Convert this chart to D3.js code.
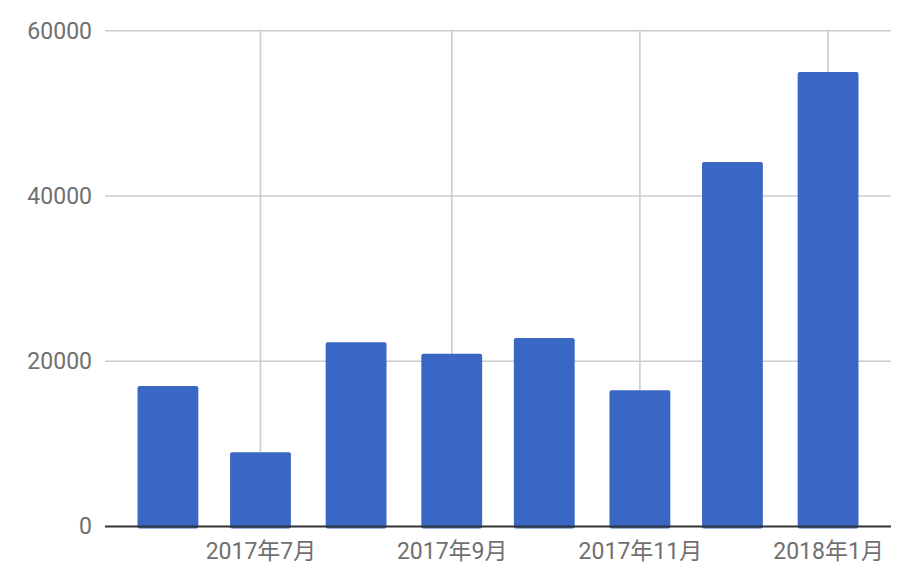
<!DOCTYPE html>
<html>
<head>
<meta charset="utf-8">
<script src="https://cdn.jsdelivr.net/npm/d3@7"></script>
<style>
  body { margin: 0; background: #fff; }
  svg text { font-family: Roboto, "Noto Sans CJK JP", sans-serif; }
</style>
</head>
<body>
<svg id="chart"></svg>
<script>
// data
const months = ["2017-06", "2017-07", "2017-08", "2017-09", "2017-10", "2017-11", "2017-12", "2018-01"];
const values = [17000, 9000, 22300, 20900, 22800, 16500, 44100, 55000];
const yTicks = [0, 20000, 40000, 60000];

const parseMonth = d3.timeParse("%Y-%m");
const data = months.map((m, i) => ({ date: parseMonth(m), value: values[i] }));

const width = 920;
const height = 584;
const padding = { top: 30.7, right: 29, bottom: 57.5, left: 105 };

const svg = d3.select("#chart")
  .attr("width", width)
  .attr("height", height);

// the time axis is padded about 20 days either side of the first / last bar
const padMs = 20.4 * 24 * 3600 * 1000;
const xScale = d3.scaleTime()
  .domain([
    new Date(data[0].date.getTime() - padMs),
    new Date(data[data.length - 1].date.getTime() + padMs)
  ])
  .range([padding.left, width - padding.right]);

const yScale = d3.scaleLinear()
  .domain([0, 60000])
  .range([height - padding.bottom, padding.top]);

// bar width = share of one month on the scale
const monthPx = (xScale(data[data.length - 1].date) - xScale(data[0].date)) / (data.length - 1);
const barWidth = monthPx * 0.645;

const xTicks = xScale.ticks(d3.timeMonth.every(2));

// horizontal grid
svg.append("g")
  .selectAll("line")
  .data(yTicks.slice(1))
  .join("line")
    .attr("x1", padding.left)
    .attr("x2", width - padding.right)
    .attr("y1", d => yScale(d))
    .attr("y2", d => yScale(d))
    .attr("stroke", "#cccccc")
    .attr("stroke-width", 1.6);

// vertical grid on the month ticks
svg.append("g")
  .selectAll("line")
  .data(xTicks)
  .join("line")
    .attr("x1", d => xScale(d))
    .attr("x2", d => xScale(d))
    .attr("y1", padding.top)
    .attr("y2", height - padding.bottom)
    .attr("stroke", "#cccccc")
    .attr("stroke-width", 1.6);

// bars
svg.append("g")
  .selectAll("rect")
  .data(data)
  .join("rect")
    .attr("x", d => xScale(d.date) - barWidth / 2)
    .attr("width", barWidth)
    .attr("y", d => yScale(d.value))
    .attr("height", d => yScale(0) - yScale(d.value) + 2)
    .attr("rx", 2)
    .attr("fill", "#3a67c4");

// baseline
svg.append("line")
  .attr("x1", padding.left)
  .attr("x2", width - padding.right)
  .attr("y1", yScale(0))
  .attr("y2", yScale(0))
  .attr("stroke", "#333333")
  .attr("stroke-width", 1.8);

// y axis labels
const yAxis = d3.axisLeft(yScale)
  .tickValues(yTicks)
  .tickSize(0)
  .tickPadding(13)
  .tickFormat(d3.format("d"));

svg.append("g")
  .attr("transform", `translate(${padding.left}, 0)`)
  .call(yAxis)
  .call(g => g.select(".domain").remove())
  .selectAll("text")
    .attr("font-size", "23px")
    .attr("fill", "#707070")
    .attr("font-family", "Roboto, 'Noto Sans CJK JP', sans-serif");

// x axis labels
const xAxis = d3.axisBottom(xScale)
  .tickValues(xTicks)
  .tickSize(0)
  .tickPadding(16)
  .tickFormat(d3.timeFormat("%Y年%-m月"));

svg.append("g")
  .attr("transform", `translate(0, ${height - padding.bottom})`)
  .call(xAxis)
  .call(g => g.select(".domain").remove())
  .selectAll("text")
    .attr("font-size", "23px")
    .attr("fill", "#707070")
    .attr("font-family", "Roboto, 'Noto Sans CJK JP', sans-serif");
</script>
</body>
</html>
